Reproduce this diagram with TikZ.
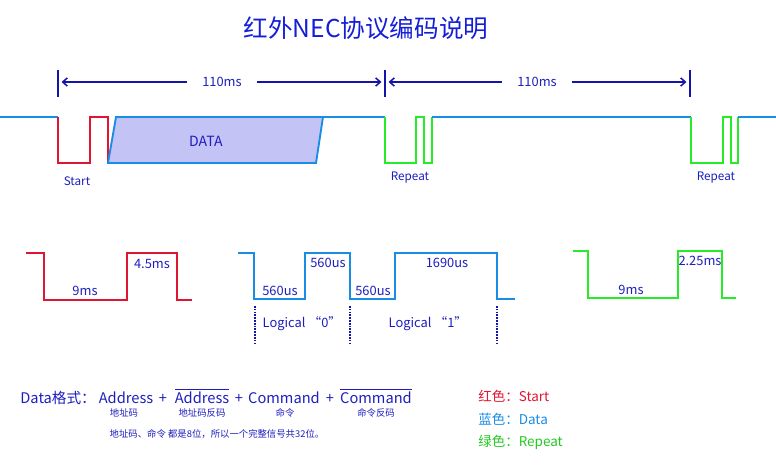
\documentclass[tikz,border=0pt]{standalone}
\usepackage{fontspec}
\setmainfont{Noto Sans CJK SC}
\usetikzlibrary{arrows.meta, positioning}

\definecolor{sigblue}{RGB}{25,140,230}
\definecolor{sigred}{RGB}{225,20,50}
\definecolor{siggreen}{RGB}{40,235,40}
\definecolor{txtblue}{RGB}{30,30,190}
\definecolor{titleblue}{RGB}{20,30,215}
\definecolor{dimblue}{RGB}{20,20,170}
\definecolor{datafill}{RGB}{195,195,245}

\begin{document}
\begin{tikzpicture}[
    x=0.03cm, y=-0.03cm,
    wave/.style={line width=2pt, line join=miter},
    wavebig/.style={line width=2.5pt, line join=miter},
    lbl/.style={text=txtblue, font=\fontsize{11}{13}\selectfont, inner sep=1pt},
    small/.style={text=txtblue, font=\fontsize{8}{10}\selectfont, inner sep=1pt},
    fmt/.style={text=txtblue, font=\fontsize{12.5}{15}\selectfont, inner sep=1pt, anchor=base},
    legend/.style={font=\fontsize{11.5}{14}\selectfont, inner sep=1pt, anchor=west},
    dim/.style={-{Straight Barb[length=4pt,width=7pt]}, line width=1.3pt, color=dimblue, shorten >=3pt},
    bar/.style={line width=2.3pt, color=dimblue},
    tick/.style={densely dotted, line width=1.4pt, color=dimblue}
]
\useasboundingbox (0,0) rectangle (776,471);

% Titel
\node[text=titleblue, font=\fontsize{21}{24}\selectfont] (title) at (366,28) {红外NEC协议编码说明};

% Tijdmaten bovenaan
\draw[bar] (58,70) -- (58,97);
\draw[bar] (385,70) -- (385,97);
\draw[bar] (690,70) -- (690,97);
\coordinate (b1) at (58,82);
\coordinate (b2) at (385,82);
\coordinate (b3) at (690,82);
\node[lbl, inner xsep=13pt] (t1) at (222,82) {110ms};
\node[lbl, inner xsep=13pt] (t2) at (537,82) {110ms};
\draw[dim] (t1) -- (b1);
\draw[dim] (t1) -- (b2);
\draw[dim] (t2) -- (b2);
\draw[dim] (t2) -- (b3);

% Signaal bovenaan
\draw[wave, sigblue, line width=1.6pt] (0,117) -- (58,117);
\draw[wave, sigred] (58,117) -- (58,163) -- (90,163) -- (90,117) -- (108,117) -- (108,163);
\draw[wave, sigblue, fill=datafill, line width=1.6pt] (108,163) -- (116,117) -- (323,117) -- (316,163) -- cycle;
\draw[wave, sigblue, line width=1.6pt] (323,117) -- (385,117);
\draw[wave, siggreen] (385,117) -- (385,163) -- (416,163) -- (416,117) -- (424,117) -- (424,163) -- (432,163) -- (432,117);
\draw[wave, sigblue, line width=1.6pt] (432,117) -- (691,117);
\draw[wave, siggreen] (691,117) -- (691,163) -- (723,163) -- (723,117) -- (731,117) -- (731,163) -- (738,163) -- (738,117);
\draw[wave, sigblue, line width=1.6pt] (738,117) -- (776,117);

\node[lbl, font=\fontsize{12}{14}\selectfont] (data) at (206,141) {DATA};
\node[lbl, font=\fontsize{10}{12}\selectfont] (start) at (77,181) {Start};
\node[lbl, font=\fontsize{10}{12}\selectfont] (rep1) at (410,178) {Repeat};
\node[lbl, font=\fontsize{10}{12}\selectfont] (rep2) at (716,178) {Repeat};

% Start-puls
\draw[wavebig, sigred] (26,253) -- (44,253) -- (44,300) -- (127,300) -- (127,253) -- (177,253) -- (177,300) -- (192,300);
\node[lbl] (s9) at (85,291) {9ms};
\node[lbl] (s45) at (152,264) {4.5ms};

% Logische bits
\draw[wavebig, sigblue] (238,253) -- (254,253) -- (254,299) -- (305,299) -- (305,253) -- (350,253) -- (350,299) -- (395,299) -- (395,253) -- (497,253) -- (497,299) -- (515,299);
\node[lbl] (l0a) at (280,291) {560us};
\node[lbl] (l0b) at (328,263) {560us};
\node[lbl] (l1a) at (373,291) {560us};
\node[lbl] (l1b) at (447,263) {1690us};
\foreach \x in {255,350,497}
    \draw[tick] (\x,306) -- (\x,343);
\node[lbl] (bit0) at (302,324) {Logical “0”};
\node[lbl] (bit1) at (428,324) {Logical “1”};

% Repeat-puls
\draw[wavebig, siggreen] (573,251) -- (588,251) -- (588,298) -- (678,298) -- (678,251) -- (722,251) -- (722,298) -- (736,298);
\node[lbl] (r9) at (631,290) {9ms};
\node[lbl] (r225) at (700,261) {2.25ms};

% Dataformaat
\node[fmt, anchor=base west] (fmt) at (19,403) {Data格式：};
\node[fmt] (adr) at (126,403) {Address};
\node[fmt] (p1) at (163,403) {+};
\node[fmt] (nadr) at (202,403) {$\overline{\mbox{Address}}$};
\node[fmt] (p2) at (239,403) {+};
\node[fmt] (cmd) at (284,403) {Command};
\node[fmt] (p3) at (330,403) {+};
\node[fmt] (ncmd) at (376,403) {$\overline{\mbox{Command}}$};
\node[small] (adrsub) at (124,413) {地址码};
\node[small] (nadrsub) at (202,413) {地址码反码};
\node[small] (cmdsub) at (285,413) {命令};
\node[small] (ncmdsub) at (376,413) {命令反码};
\node[small] (note) at (217,434) {地址码、命令 都是8位，所以一个完整信号共32位。};

% Legenda
\node[legend, text=sigred] (lred) at (477,396) {红色：Start};
\node[legend, text=sigblue] (lblue) at (477,419) {蓝色：Data};
\node[legend, text=siggreen!85!black] (lgreen) at (477,442) {绿色：Repeat};

\end{tikzpicture}
\end{document}
